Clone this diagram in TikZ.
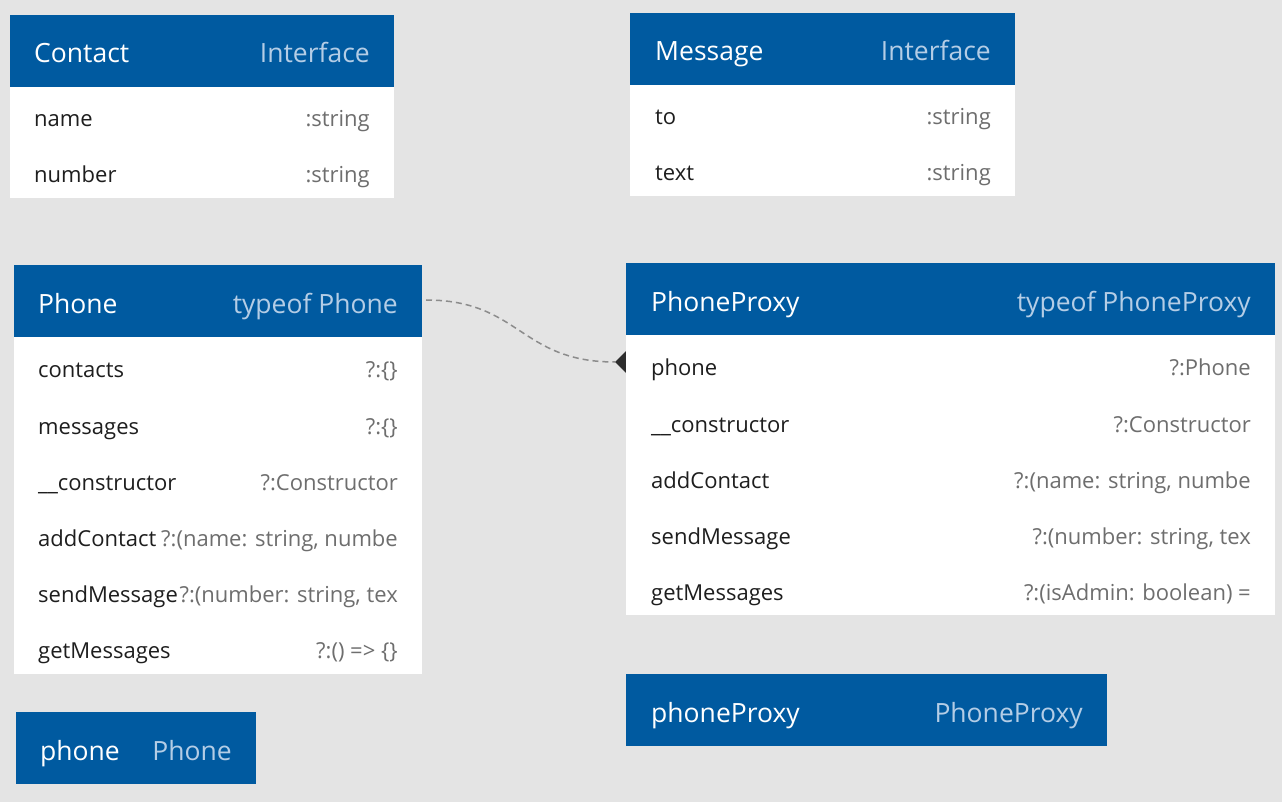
\documentclass[tikz,border=0pt]{standalone}
\usepackage{fontspec}
\setmainfont{Open Sans}
\definecolor{bg}{RGB}{228,228,228}
\definecolor{hdr}{RGB}{0,90,160}
\definecolor{hdrtype}{RGB}{180,205,230}
\definecolor{bodytxt}{RGB}{30,30,30}
\definecolor{typetxt}{RGB}{110,110,110}
\definecolor{conn}{RGB}{140,140,140}
\definecolor{tip}{RGB}{45,45,45}
\tikzset{
  hdrbox/.style={fill=hdr, draw=none},
  bodybox/.style={fill=white, draw=none},
  title/.style={anchor=base west, yshift=-10pt, text=white, font=\fontsize{26.5}{30}\selectfont, inner sep=0pt},
  ttype/.style={anchor=base east, yshift=-10pt, text=hdrtype, font=\fontsize{26.5}{30}\selectfont, inner sep=0pt},
  fname/.style={anchor=base west, yshift=-8pt, text=bodytxt, font=\fontsize{22}{26}\selectfont, inner sep=0pt},
  ftype/.style={anchor=base east, yshift=-8pt, text=typetxt, font=\fontsize{22}{26}\selectfont, inner sep=0pt},
  link/.style={draw=conn, line width=1.5pt, dash pattern=on 6pt off 4pt},
}
\begin{document}
\begin{tikzpicture}[x=1pt,y=-1pt]
\fill[bg] (0,0) rectangle (1282,802);
\useasboundingbox (0,0) rectangle (1282,802);

% connector (drawn first, boxes on top)
\coordinate (ph) at (426,300);
\coordinate (pp) at (615,362);
\draw[link] (ph) .. controls (520,300) and (520,362) .. (pp);
\fill[tip] (pp) -- (626,351) -- (637,362) -- (626,373) -- cycle;

% Contact
\fill[hdrbox] (10,15) rectangle (394,87);
\fill[bodybox] (10,87) rectangle (394,198);
\node[title] (contactT) at (34,53) {Contact};
\node[ttype] (contactI) at (370,53) {Interface};
\node[fname] (c1) at (34,119) {name};
\node[ftype] (c1t) at (370,119) {:string};
\node[fname] (c2) at (34,175) {number};
\node[ftype] (c2t) at (370,175) {:string};

% Message
\fill[hdrbox] (630,13) rectangle (1015,85);
\fill[bodybox] (630,85) rectangle (1015,196);
\node[title] (msgT) at (655,51) {Message};
\node[ttype] (msgI) at (991,51) {Interface};
\node[fname] (m1) at (655,117) {to};
\node[ftype] (m1t) at (991,117) {:string};
\node[fname] (m2) at (655,173) {text};
\node[ftype] (m2t) at (991,173) {:string};

% Phone
\fill[hdrbox] (14,265) rectangle (422,337);
\fill[bodybox] (14,337) rectangle (422,674);
\node[title] (phT) at (38,303) {Phone};
\node[ttype] (phI) at (398,303) {typeof Phone};
\node[fname] (p1) at (38,369) {contacts};
\node[ftype] (p1t) at (398,369) {?:\{\}};
\node[fname] (p2) at (38,426) {messages};
\node[ftype] (p2t) at (398,426) {?:\{\}};
\node[fname] (p3) at (38,482) {\_\_constructor};
\node[ftype] (p3t) at (398,482) {?:Constructor};
\node[fname] (p4) at (38,538) {addContact};
\node[ftype] (p4t) at (398,538) {?:(name: string, numbe};
\node[fname] (p5) at (38,594) {sendMessage};
\node[ftype] (p5t) at (398,594) {?:(number: string, tex};
\node[fname] (p6) at (38,650) {getMessages};
\node[ftype] (p6t) at (398,650) {?:() => \{\}};

% PhoneProxy
\fill[hdrbox] (626,263) rectangle (1275,335);
\fill[bodybox] (626,335) rectangle (1275,615);
\node[title] (ppT) at (651,301) {PhoneProxy};
\node[ttype] (ppI) at (1251,301) {typeof PhoneProxy};
\node[fname] (q1) at (651,367) {phone};
\node[ftype] (q1t) at (1251,367) {?:Phone};
\node[fname] (q2) at (651,424) {\_\_constructor};
\node[ftype] (q2t) at (1251,424) {?:Constructor};
\node[fname] (q3) at (651,480) {addContact};
\node[ftype] (q3t) at (1251,480) {?:(name: string, numbe};
\node[fname] (q4) at (651,536) {sendMessage};
\node[ftype] (q4t) at (1251,536) {?:(number: string, tex};
\node[fname] (q5) at (651,592) {getMessages};
\node[ftype] (q5t) at (1251,592) {?:(isAdmin: boolean) =};

% phone variable
\fill[hdrbox] (16,712) rectangle (256,784);
\node[title] (vT) at (40,750) {phone};
\node[ttype] (vI) at (232,750) {Phone};

% phoneProxy variable
\fill[hdrbox] (626,674) rectangle (1107,746);
\node[title] (wT) at (651,712) {phoneProxy};
\node[ttype] (wI) at (1083,712) {PhoneProxy};
\end{tikzpicture}
\end{document}
